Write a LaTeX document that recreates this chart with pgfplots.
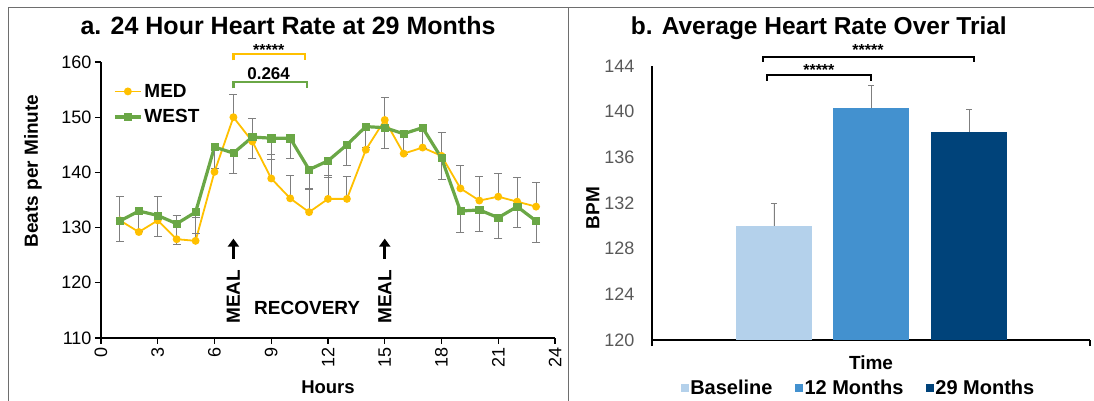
\documentclass[border=0pt]{standalone}
\usepackage{pgfplots}
\pgfplotsset{compat=1.18}
\usepackage{pgfplotstable}
\usepackage{fontspec}
\setmainfont{Liberation Sans}
\usetikzlibrary{arrows.meta}
\definecolor{med}{HTML}{FFC000}
\definecolor{west}{HTML}{6AA746}
\definecolor{base}{HTML}{B4D1EB}
\definecolor{mtw}{HTML}{4391CF}
\definecolor{mtn}{HTML}{00437A}
\definecolor{tickgray}{HTML}{595959}
\definecolor{ebar}{HTML}{7F7F7F}
\definecolor{frame}{HTML}{6E6E6E}
\newcommand{\fs}[1]{\fontsize{#1}{#1}\selectfont}

\pgfplotstableread{
x y e
1 131.3 4.4
2 129.2 4.2
3 131.3 4.4
4 127.9 4.3
5 127.6 4.3
6 140.1 4.0
7 150.0 4.2
8 145.6 4.2
9 138.9 4.3
10 135.3 4.2
11 132.8 4.3
12 135.2 4.3
13 135.2 4.1
14 144.1 4.2
15 149.5 4.1
16 143.4 4.2
17 144.5 4.2
18 143.0 4.2
19 137.1 4.1
20 134.9 4.3
21 135.6 4.2
22 134.7 4.3
23 133.8 4.3
}\medtable

\pgfplotstableread{
x y e
1 131.2 3.7
2 133.0 3.7
3 132.2 3.8
4 130.7 3.7
5 132.8 3.8
6 144.6 3.8
7 143.5 3.7
8 146.4 3.8
9 146.2 3.9
10 146.2 3.6
11 140.5 3.6
12 142.1 3.1
13 145.0 3.7
14 148.3 3.7
15 148.1 3.7
16 147.0 3.7
17 148.1 3.7
18 142.6 3.8
19 133.0 3.8
20 133.2 3.9
21 131.8 3.8
22 133.8 3.7
23 131.2 3.8
}\westtable

\pgfplotsset{
  mybar/.style={ybar, bar width=76pt, bar shift=0pt, draw=none,
     legend image code/.code={\fill[##1] (0pt,-4pt) rectangle (8pt,4pt);}},
}

\begin{document}
\begin{tikzpicture}
\path[use as bounding box] (0,0) rectangle (1094pt,401pt);
\draw[frame, line width=1pt] (8pt,0) -- (8pt,393pt) -- (1094pt,393pt);
\draw[frame, line width=1pt] (568pt,0) -- (568pt,393pt);

\begin{axis}[
  at={(101pt,63pt)}, anchor=south west, scale only axis,
  width=454pt, height=276pt,
  xmin=0, xmax=24, ymin=110, ymax=160,
  xtick={0,3,...,24}, ytick={110,120,...,160},
  axis x line*=bottom, axis y line*=left,
  axis line style={line width=1.1pt, black, -},
  tick align=outside, major tick length=6pt,
  every tick/.style={black, line width=1.1pt},
  tick label style={font=\fs{18}},
  xticklabel style={rotate=90, anchor=east},
  /pgf/number format/assume math mode=true,
  clip=false,
  title={a. 24 Hour Heart Rate at 29 Months},
  title style={font=\bfseries\fs{25}, at={(axis description cs:0.412,1.112)}, anchor=center},
  xlabel={Hours},
  xlabel style={font=\bfseries\fs{18.5}, at={(axis description cs:0.5,-0.1775)}, anchor=center},
  ylabel={Beats per Minute},
  ylabel style={font=\bfseries\fs{19}, at={(axis description cs:-0.15,0.605)}, anchor=center},
  legend style={at={(axis description cs:0.02,0.935)}, anchor=north west, draw=none, fill=none,
     font=\bfseries\fs{19}, row sep=7pt},
  legend cell align=left,
  legend image code/.code={\draw[mark repeat=2,mark phase=2,#1] plot coordinates {(0pt,0pt) (13pt,0pt) (26pt,0pt)};},
]
\addplot[color=med, line width=1.8pt, mark=*, mark size=3pt, mark options={solid, fill=med},
  error bars/.cd, y dir=plus, y explicit,
  error bar style={ebar, line width=0.9pt},
  error mark options={rotate=90, ebar, mark size=4pt, line width=0.9pt}]
  table[x=x, y=y, y error=e] {\medtable};
\addlegendentry{MED}
\addplot[color=west, line width=3.2pt, mark=square*, mark size=3.6pt, mark options={solid, fill=west, line width=0.5pt},
  error bars/.cd, y dir=minus, y explicit,
  error bar style={ebar, line width=0.9pt},
  error mark options={rotate=90, ebar, mark size=4pt, line width=0.9pt}]
  table[x=x, y=y, y error=e] {\westtable};
\addlegendentry{WEST}

\draw[med, line width=2.2pt] (axis cs:7,160.3) -- (axis cs:7,161.5) -- (axis cs:10.8,161.5) -- (axis cs:10.8,160.3);
\node[font=\bfseries\fs{16}, yshift=-3pt] at (axis cs:8.87,162.8) {*****};
\draw[west, line width=2.2pt] (axis cs:7,155.2) -- (axis cs:7,156.4) -- (axis cs:10.87,156.4) -- (axis cs:10.87,155.2);
\node[font=\bfseries\fs{17}] at (axis cs:8.86,157.9) {0.264};

\draw[-{Triangle[length=8pt,width=11pt]}, line width=2.8pt] (axis cs:7,124.4) -- (axis cs:7,128.0);
\draw[-{Triangle[length=8pt,width=11pt]}, line width=2.8pt] (axis cs:15,124.4) -- (axis cs:15,128.0);
\node[rotate=90, font=\bfseries\fs{19}] at (axis cs:7,117.5) {MEAL};
\node[rotate=90, font=\bfseries\fs{19}] at (axis cs:15,117.5) {MEAL};
\node[font=\bfseries\fs{19}] at (axis cs:10.9,115.4) {RECOVERY};
\end{axis}

\begin{axis}[
  at={(652pt,61pt)}, anchor=south west, scale only axis,
  width=438pt, height=274pt,
  xmin=0, xmax=1, ymin=120, ymax=144,
  ytick={120,124,...,144}, xtick={0,1}, xticklabels={},
  axis x line*=bottom, axis y line*=left,
  axis line style={line width=1.1pt, black, -},
  tick align=outside, major tick length=6pt,
  x tick style={black, line width=1.1pt}, y tick style={draw=none},
  yticklabel style={font=\fs{18}, text=tickgray, xshift=-8pt},
  /pgf/number format/assume math mode=true,
  title={b. Average Heart Rate Over Trial},
  title style={font=\bfseries\fs{24.5}, at={(axis description cs:0.381,1.116)}, anchor=center},
  xlabel={Time},
  xlabel style={font=\bfseries\fs{19}, at={(axis description cs:0.5,-0.084)}, anchor=center},
  ylabel={BPM},
  ylabel style={font=\bfseries\fs{19}, at={(axis description cs:-0.135,0.482)}, anchor=center},
  legend columns=3,
  legend style={at={(axis description cs:0.471,-0.175)}, anchor=center, draw=none, fill=none,
     font=\bfseries\fs{20}, /tikz/every even column/.append style={column sep=21pt},
     nodes={inner sep=1.5pt}},
]
\addplot[mybar, fill=base, error bars/.cd, y dir=plus, y explicit,
  error bar style={ebar, line width=0.9pt},
  error mark options={rotate=90, ebar, mark size=3pt, line width=0.9pt}]
  coordinates {(0.2785,130.0) +- (0,2.0)};
\addlegendentry{Baseline}
\addplot[mybar, fill=mtw, error bars/.cd, y dir=plus, y explicit,
  error bar style={ebar, line width=0.9pt},
  error mark options={rotate=90, ebar, mark size=3pt, line width=0.9pt}]
  coordinates {(0.501,140.3) +- (0,2.0)};
\addlegendentry{12 Months}
\addplot[mybar, fill=mtn, error bars/.cd, y dir=plus, y explicit,
  error bar style={ebar, line width=0.9pt},
  error mark options={rotate=90, ebar, mark size=3pt, line width=0.9pt}]
  coordinates {(0.724,138.2) +- (0,2.0)};
\addlegendentry{29 Months}

\coordinate (a1) at (axis cs:0.2626,142.7);
\coordinate (a2) at (axis cs:0.2626,143.2);
\coordinate (a3) at (axis cs:0.500,143.2);
\coordinate (a4) at (axis cs:0.500,142.7);
\coordinate (at) at (axis cs:0.381,143.9);
\coordinate (b1) at (axis cs:0.2534,144.35);
\coordinate (b2) at (axis cs:0.2534,144.8);
\coordinate (b3) at (axis cs:0.735,144.8);
\coordinate (b4) at (axis cs:0.735,144.35);
\coordinate (bt) at (axis cs:0.493,145.66);
\end{axis}
\draw[line width=2.4pt] (a1) -- (a2) -- (a3) -- (a4);
\draw[line width=2.4pt] (b1) -- (b2) -- (b3) -- (b4);
\node[font=\bfseries\fs{16}, yshift=-3pt] at (at) {*****};
\node[font=\bfseries\fs{16}, yshift=-3pt] at (bt) {*****};
\end{tikzpicture}
\end{document}
